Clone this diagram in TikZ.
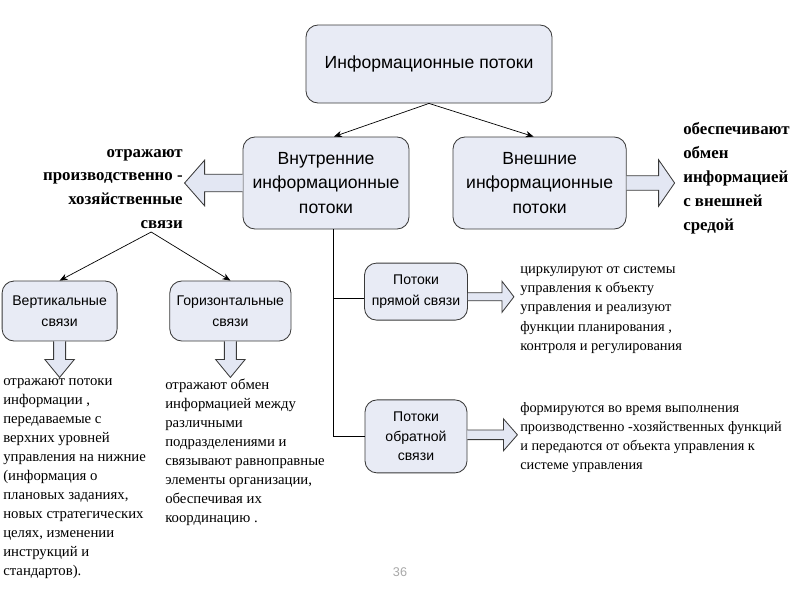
\documentclass[tikz,border=0pt]{standalone}
\usepackage{fontspec}
\setmainfont{Liberation Serif}
\setsansfont{Liberation Sans}
\usepackage{xcolor}
\definecolor{linec}{HTML}{3A3A3A}
\definecolor{boxc}{HTML}{E8EBF5}
\definecolor{arrc}{HTML}{E3E7F3}
\definecolor{pagec}{HTML}{A8A8A8}
\usetikzlibrary{arrows.meta,positioning,calc}
\tikzset{
  >={Stealth[length=2mm,width=1.6mm]},
  box/.style={draw=linec,line width=0.6pt,fill=boxc,rounded corners=0.3cm,align=center,inner sep=2pt,
    font=\sffamily\fontsize{12.5}{17.5}\selectfont},
  sbox/.style={box,font=\sffamily\fontsize{10}{15}\selectfont},
  btext/.style={font=\bfseries\fontsize{12}{17}\selectfont,inner sep=0pt},
  ptext/.style={font=\fontsize{10.5}{13.5}\selectfont,inner sep=0pt,align=left},
  conn/.style={->,draw=black,line width=0.5pt},
  trunk/.style={draw=black,line width=0.6pt},
  barr/.style={draw=linec,fill=arrc,line width=0.6pt,line join=miter},
}
% block arrow: start, angle, length, head length, shaft half, head half
\newcommand{\barrow}[6]{%
  \begin{scope}[shift={(#1)},rotate=#2]
    \filldraw[barr] (0,#5) -- (#3-#4,#5) -- (#3-#4,#6) -- (#3,0) -- (#3-#4,-#6) -- (#3-#4,-#5) -- (0,-#5);
  \end{scope}}

\begin{document}
\begin{tikzpicture}
  \useasboundingbox (0,0) rectangle (20,-15);
  % boxes
  \node[box,minimum width=6.15cm,minimum height=1.95cm] (info) at (10.725,-1.6) {Информационные потоки};
  \node[box,minimum width=4.15cm,minimum height=2.3cm] (inner) at (8.15,-4.575) {Внутренние\\информационные\\потоки};
  \node[box,minimum width=4.33cm,minimum height=2.3cm] (outer) at (13.49,-4.575) {Внешние\\информационные\\потоки};
  \node[sbox,minimum width=2.875cm,minimum height=1.5cm] (vert) at (1.49,-7.775) {Вертикальные\\связи};
  \node[sbox,minimum width=3.03cm,minimum height=1.5cm] (horiz) at (5.76,-7.775) {Горизонтальные\\связи};
  \node[sbox,minimum width=2.575cm,minimum height=1.425cm] (direct) at (10.4,-7.29) {Потоки\\прямой связи};
  \node[sbox,font=\sffamily\fontsize{10}{14}\selectfont,minimum width=2.55cm,minimum height=1.825cm] (back) at (10.4,-10.91) {Потоки\\обратной\\связи};
  % texts
  \node[btext,align=right,anchor=east] (ltxt) at (4.575,-4.725) {отражают\\производственно -\\хозяйственные\\связи};
  \node[btext,align=left,anchor=west] (rtxt) at (17.075,-4.45) {обеспечивают\\обмен\\информацией\\с внешней\\средой};
  \node[ptext,anchor=north west] (vtxt) at (0.075,-9.45) {отражают потоки\\информации ,\\передаваемые с\\верхних уровней\\управления на нижние\\(информация о\\плановых заданиях,\\новых стратегических\\целях, изменении\\инструкций и\\стандартов).};
  \node[ptext,anchor=north west] (htxt) at (4.125,-9.47) {отражают обмен\\информацией между\\различными\\подразделениями и\\связывают равноправные\\элементы организации,\\обеспечивая их\\координацию .};
  \node[ptext,font=\fontsize{10.3}{13.8}\selectfont,anchor=west] (dtxt) at (13,-7.75) {циркулируют от системы\\управления к объекту\\управления и реализуют\\функции планирования ,\\контроля и регулирования};
  \node[ptext,font=\fontsize{10.2}{13.6}\selectfont,anchor=west] (btxt) at (13,-10.94) {формируются во время выполнения\\производственно -хозяйственных функций\\и передаются от объекта управления к\\системе управления};
  \node[font=\sffamily\fontsize{9}{10}\selectfont,text=pagec] (page) at (10,-14.3) {36};
  % connectors
  \coordinate (src) at (3.78,-5.8);
  \draw[conn] (info.south) -- ([xshift=2mm]inner.north);
  \draw[conn] (info.south) -- ([xshift=-1.5mm]outer.north);
  \draw[conn] (src) -- (vert.north);
  \draw[conn] (src) -- (horiz.north);
  \coordinate (tr) at ([xshift=1.75mm]inner.south);
  \draw[trunk] (tr) |- (back.west);
  \draw[trunk] ([yshift=-1.6mm]direct.west) -- ([yshift=-1.6mm]direct.west -| tr);
  % block arrows
  \barrow{inner.west}{180}{1.45}{0.5}{0.22}{0.57}
  \barrow{outer.east}{0}{1.2}{0.4}{0.18}{0.58}
  \barrow{vert.south}{-90}{0.9}{0.45}{0.15}{0.37}
  \barrow{horiz.south}{-90}{0.9}{0.45}{0.15}{0.37}
  \barrow{$(direct.east)+(0,-0.13)$}{0}{1.15}{0.3}{0.1}{0.39}
  \barrow{$(back.east)+(0,0.04)$}{0}{1.25}{0.35}{0.12}{0.4}
\end{tikzpicture}
\end{document}
